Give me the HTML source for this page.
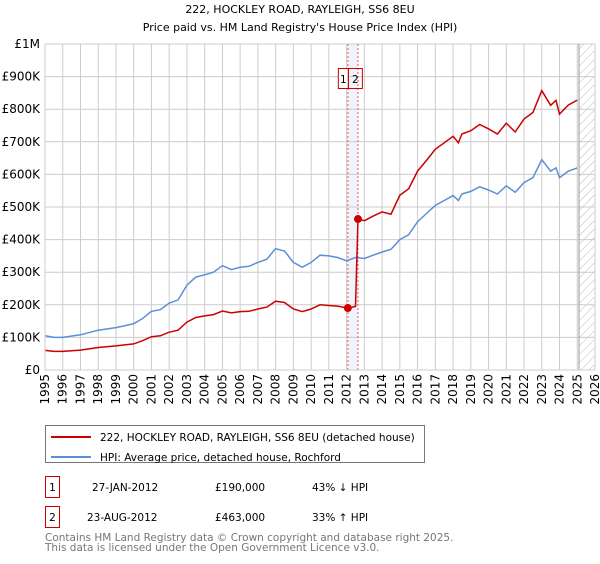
<!DOCTYPE html>
<html><head><meta charset="utf-8"><style>
body{margin:0;background:#fff;font-family:"DejaVu Sans","Liberation Sans",sans-serif}
svg text{font-family:"DejaVu Sans","Liberation Sans",sans-serif}
</style></head><body>
<svg id="c" width="600" height="560" xmlns="http://www.w3.org/2000/svg">
<defs><pattern id="hatch" width="6" height="6" patternUnits="userSpaceOnUse" patternTransform="rotate(45)"><line x1="0" y1="0" x2="0" y2="6" stroke="#bbb" stroke-width="1"/></pattern></defs>
<text x="300" y="13" font-size="11" text-anchor="middle">222, HOCKLEY ROAD, RAYLEIGH, SS6 8EU</text>
<text x="300" y="31" font-size="11" text-anchor="middle">Price paid vs. HM Land Registry's House Price Index (HPI)</text>
<g id="grid"></g><g id="marks"></g><g id="axes"></g>
<g>
<rect x="45.5" y="425.5" width="379" height="37" fill="#fff" stroke="#777"/>
<line x1="51" y1="437" x2="91" y2="437" stroke="#cc0000" stroke-width="2"/>
<text x="100" y="441" font-size="10.5">222, HOCKLEY ROAD, RAYLEIGH, SS6 8EU (detached house)</text>
<line x1="51" y1="457" x2="91" y2="457" stroke="#5b8fd6" stroke-width="2"/>
<text x="100" y="461" font-size="10.5">HPI: Average price, detached house, Rochford</text>
</g>
<g font-size="10.5">
<rect x="45.5" y="476.5" width="14" height="21" fill="none" stroke="#cc0000"/>
<text x="52.5" y="491" text-anchor="middle">1</text>
<text x="92" y="491">27-JAN-2012</text><text x="215" y="491">£190,000</text><text x="312" y="491">43% ↓ HPI</text>
<rect x="45.5" y="506.5" width="14" height="21" fill="none" stroke="#cc0000"/>
<text x="52.5" y="521" text-anchor="middle">2</text>
<text x="87" y="521">23-AUG-2012</text><text x="215" y="521">£463,000</text><text x="312" y="521">33% ↑ HPI</text>
</g>
<text x="45" y="541" font-size="10.5" fill="#777">Contains HM Land Registry data © Crown copyright and database right 2025.</text>
<text x="45" y="551" font-size="10.5" fill="#777">This data is licensed under the Open Government Licence v3.0.</text>
</svg>
<script>
const hpiYears=[1995,1995.5,1996,1997,1998,1999,2000,2000.5,2001,2001.5,2002,2002.5,2003,2003.5,2004,2004.5,2005,2005.5,2006,2006.5,2007,2007.5,2008,2008.5,2009,2009.5,2010,2010.5,2011,2011.5,2012,2012.5,2013,2013.5,2014,2014.5,2015,2015.5,2016,2016.5,2017,2017.5,2018,2018.3,2018.5,2019,2019.5,2020,2020.5,2021,2021.5,2022,2022.5,2023,2023.5,2023.8,2024,2024.5,2025];
const hpiValues=[105,100,100,108,122,130,142,158,180,185,205,215,260,285,292,300,320,308,315,318,330,340,372,365,330,315,330,352,350,345,335,345,342,352,362,370,400,415,455,480,505,520,535,520,540,548,562,552,540,565,545,575,590,645,610,620,590,610,620];
const redYears=[1995,1995.5,1996,1997,1998,1999,2000,2000.5,2001,2001.5,2002,2002.5,2003,2003.5,2004,2004.5,2005,2005.5,2006,2006.5,2007,2007.5,2008,2008.5,2009,2009.5,2010,2010.5,2011,2011.5,2012.07,2012.5,2012.64,2013,2013.5,2014,2014.5,2015,2015.5,2016,2016.5,2017,2017.5,2018,2018.3,2018.5,2019,2019.5,2020,2020.5,2021,2021.5,2022,2022.5,2023,2023.5,2023.8,2024,2024.5,2025];
const redValues=[60,57,57,61,69,74,80,90,102,105,116,122,147,161,166,170,181,175,179,180,187,193,211,207,187,179,187,200,198,196,190,195,463,458,472,485,478,536,556,610,643,677,697,717,697,724,734,753,740,724,757,730,770,790,857,812,827,785,813,828];
const saleYears=[2012.07,2012.64];
const saleValues=[190,463];
const yTicks=[0,100,200,300,400,500,600,700,800,900,1000];
const yTickLabels=["£0","£100K","£200K","£300K","£400K","£500K","£600K","£700K","£800K","£900K","£1M"];
const xTicks=[1995,1996,1997,1998,1999,2000,2001,2002,2003,2004,2005,2006,2007,2008,2009,2010,2011,2012,2013,2014,2015,2016,2017,2018,2019,2020,2021,2022,2023,2024,2025,2026];
const NS="http://www.w3.org/2000/svg";
const X0=45,X1=595,Y0=370,Y1=44;
const xs=y=>X0+(y-1995)/(2026-1995)*(X1-X0);
const ys=v=>Y0-v/1000*(Y0-Y1);
function mk(t,a,p){const e=document.createElementNS(NS,t);for(const k in a)e.setAttribute(k,a[k]);p.appendChild(e);return e;}
const grid=document.getElementById('grid'),marks=document.getElementById('marks'),axes=document.getElementById('axes');
mk('rect',{x:X0,y:Y1,width:X1-X0,height:Y0-Y1,fill:'#fff'},grid);
const band=mk('rect',{x:xs(saleYears[0]),y:Y1,width:xs(saleYears[1])-xs(saleYears[0]),height:Y0-Y1,fill:'#eef3fc'},grid);


const hx=xs(2025.1);
const hr=mk('rect',{x:hx,y:Y1,width:X1-hx,height:Y0-Y1,fill:'url(#hatch)'},grid);


yTicks.forEach((v,i)=>{
 const l=mk('line',{x1:X0,x2:X1,y1:ys(v),y2:ys(v),stroke:'#ccc'},grid);
 
 
 const t=mk('text',{x:40,y:ys(v)+4,'font-size':12,'text-anchor':'end'},axes);
 t.textContent=yTickLabels[i];
 
 
});
xTicks.forEach(y=>{
 const l=mk('line',{x1:xs(y),x2:xs(y),y1:Y1,y2:Y0,stroke:'#ccc'},grid);
 
 
 const t=mk('text',{x:0,y:0,'font-size':12,'text-anchor':'end',transform:`translate(${xs(y)+4},374) rotate(-90)`},axes);
 t.textContent=y;
 
 
});
mk('line',{x1:hx,x2:hx,y1:Y1,y2:Y0,stroke:'#999'},grid);
saleYears.forEach((y,i)=>{
 const l=mk('line',{x1:xs(y),x2:xs(y),y1:Y1,y2:Y0,stroke:'#ee5555','stroke-dasharray':'2,2'},grid);
 
 
});
mk('path',{d:`M${X0},${Y1}V${Y0}H${X1}`,fill:'none',stroke:'#ccc'},axes);
function line(xa,va,col,name){
 const d=xa.map((x,i)=>(i?'L':'M')+xs(x).toFixed(1)+','+ys(va[i]).toFixed(1)).join('');
 const p=mk('path',{d:d,fill:'none',stroke:col,'stroke-width':1.5},marks);
 
 
}
line(hpiYears,hpiValues,'#5b8fd6','hpi-line');
line(redYears,redValues,'#cc0000','price-paid-line');
saleYears.forEach((y,i)=>{
 const c=mk('circle',{cx:xs(y),cy:ys(saleValues[i]),r:4,fill:'#cc0000'},marks);
 
 
});
saleYears.forEach((y,i)=>{
 const x1=xs(saleYears[0]);
 const bx=i==0?x1-10:x1;
 const w=i==0?10:14;
 const g=mk('g',{},marks);
 
 
 mk('rect',{x:bx+0.5,y:68.5,width:w,height:20,fill:i==0?'#fff':'none',stroke:'#cc0000'},g);
 const t=mk('text',{x:bx+0.5+w/2,y:83,'font-size':10.5,'text-anchor':'middle'},g);
 t.textContent=i+1;
});
</script>
</body></html>
